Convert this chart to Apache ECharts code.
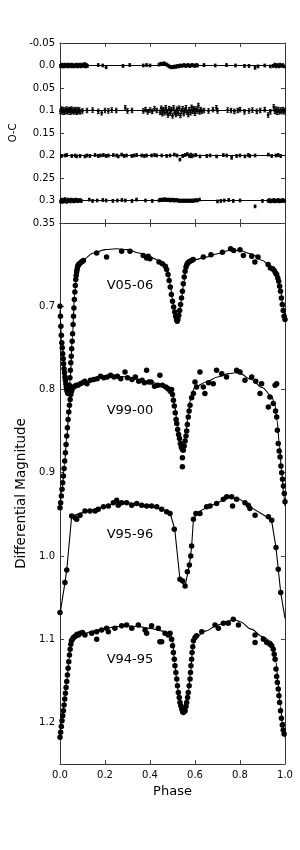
<!DOCTYPE html>
<html><head><meta charset="utf-8">
<script src="https://cdn.jsdelivr.net/npm/echarts@6/dist/echarts.min.js"></script>
<style>html,body{margin:0;padding:0;background:#fff}#c{width:300px;height:850px}</style>
</head><body><div id="c"></div>
<script>
// ---------- DATA ----------
const phaseTicks = ['0.0','0.2','0.4','0.6','0.8','1.0'];
const ocTickLabels = ['-0.05','0.0','0.05','0.1','0.15','0.2','0.25','0.3','0.35'];
const magTickLabels = ['0.7','0.8','0.9','1.0','1.1','1.2'];
const curveNames = ['V05-06','V99-00','V95-96','V94-95'];
const ocOffsets = [0.0, 0.1, 0.2, 0.3];
const ocErrors = [0.003, 0.005, 0.003, 0.003];

// Light curve observations [phase, differential magnitude]
const obsV0506 = [[0.000,0.700],[0.002,0.712],[0.004,0.724],[0.006,0.735],[0.008,0.744],[0.010,0.750],[0.012,0.757],[0.014,0.763],[0.016,0.769],[0.018,0.775],[0.020,0.780],[0.022,0.785],[0.024,0.789],[0.026,0.793],[0.028,0.797],[0.030,0.800],[0.032,0.802],[0.034,0.804],[0.036,0.805],[0.038,0.804],[0.040,0.801],[0.042,0.795],[0.044,0.786],[0.046,0.777],[0.048,0.768],[0.050,0.760],[0.052,0.751],[0.054,0.742],[0.056,0.733],[0.058,0.722],[0.060,0.712],[0.062,0.702],[0.064,0.692],[0.066,0.683],[0.068,0.675],[0.070,0.668],[0.072,0.663],[0.074,0.659],[0.076,0.656],[0.078,0.653],[0.080,0.651],[0.083,0.650],[0.086,0.649],[0.090,0.648],[0.095,0.647],[0.100,0.646],[0.104,0.645],
[0.163,0.636],[0.207,0.641],[0.274,0.634],[0.311,0.634],[0.370,0.639],[0.385,0.642],[0.392,0.640],[0.400,0.643],[0.440,0.647],[0.455,0.649],
[0.468,0.652],[0.474,0.656],[0.480,0.662],[0.485,0.669],[0.490,0.677],[0.495,0.686],[0.500,0.694],[0.505,0.701],[0.510,0.707],[0.514,0.712],[0.518,0.716],[0.521,0.718],[0.524,0.716],[0.528,0.711],[0.532,0.705],[0.536,0.698],[0.540,0.690],[0.544,0.682],[0.548,0.673],[0.552,0.665],[0.556,0.658],[0.560,0.653],[0.564,0.650],[0.568,0.648],[0.572,0.647],[0.578,0.646],[0.585,0.645],[0.592,0.644],
[0.637,0.641],[0.671,0.638],[0.722,0.635],[0.758,0.631],[0.772,0.633],[0.800,0.632],[0.815,0.639],[0.852,0.640],[0.866,0.647],[0.880,0.641],[0.925,0.650],[0.935,0.654],[0.945,0.655],[0.952,0.657],[0.958,0.660],[0.963,0.662],[0.968,0.666],[0.972,0.670],[0.976,0.676],[0.980,0.682],[0.984,0.690],[0.988,0.698],[0.992,0.705],[0.996,0.712],[1.000,0.716]];

const obsV9900 = [[0.000,0.942],[0.003,0.936],[0.006,0.928],[0.009,0.920],[0.012,0.912],[0.015,0.904],[0.018,0.895],[0.021,0.886],[0.024,0.876],[0.027,0.866],[0.030,0.856],[0.033,0.846],[0.036,0.836],[0.039,0.827],[0.042,0.819],[0.045,0.812],[0.048,0.806],[0.051,0.802],[0.055,0.799],[0.060,0.797],[0.066,0.796],[0.072,0.795],[0.080,0.795],[0.090,0.793],[0.100,0.792],[0.110,0.790],[0.120,0.793],[0.135,0.789],[0.150,0.788],[0.165,0.787],[0.180,0.784],[0.195,0.786],[0.210,0.785],[0.225,0.783],[0.240,0.785],[0.255,0.784],[0.270,0.787],[0.289,0.779],[0.300,0.786],[0.320,0.788],[0.335,0.785],[0.350,0.790],[0.365,0.789],[0.375,0.792],[0.385,0.777],[0.395,0.791],[0.405,0.791],[0.420,0.796],[0.435,0.795],[0.444,0.783],[0.455,0.795],[0.470,0.797],[0.480,0.799],[0.490,0.802],
[0.496,0.800],[0.500,0.806],[0.504,0.813],[0.508,0.820],[0.512,0.828],[0.516,0.836],[0.519,0.841],[0.523,0.848],[0.527,0.854],[0.531,0.859],[0.535,0.865],[0.539,0.869],[0.544,0.872],[0.544,0.882],[0.544,0.893],[0.548,0.873],[0.552,0.868],[0.556,0.862],[0.560,0.856],[0.563,0.850],[0.566,0.842],[0.570,0.833],[0.574,0.826],[0.578,0.819],[0.585,0.810],[0.593,0.805],[0.600,0.791],[0.607,0.797],[0.622,0.779],[0.637,0.797],[0.644,0.805],[0.660,0.792],[0.681,0.793],[0.696,0.777],[0.719,0.781],[0.740,0.785],[0.785,0.777],[0.800,0.779],[0.822,0.789],[0.852,0.785],[0.870,0.790],[0.889,0.805],[0.896,0.793],[0.926,0.821],[0.933,0.809],[0.956,0.795],[0.963,0.793],
[0.948,0.817],[0.958,0.826],[0.963,0.833],[0.966,0.849],[0.970,0.865],[0.974,0.874],[0.978,0.881],[0.982,0.892],[0.985,0.900],[0.989,0.908],[0.993,0.916],[0.997,0.925],[1.000,0.935]];

const obsV9596 = [[0.000,1.068],[0.022,1.032],[0.030,1.017],[0.052,0.952],[0.067,0.954],[0.074,0.956],[0.089,0.951],[0.111,0.946],[0.133,0.946],[0.156,0.946],[0.170,0.944],[0.193,0.941],[0.215,0.940],[0.237,0.936],[0.252,0.933],[0.259,0.939],[0.274,0.936],[0.296,0.936],[0.319,0.939],[0.341,0.937],[0.363,0.939],[0.385,0.940],[0.407,0.940],[0.430,0.941],[0.452,0.944],[0.474,0.947],[0.489,0.949],[0.508,0.968],[0.533,1.028],[0.545,1.030],[0.556,1.036],[0.566,1.019],[0.575,1.011],[0.581,1.000],[0.585,0.988],[0.593,0.956],[0.604,0.949],[0.622,0.949],[0.652,0.941],[0.667,0.940],[0.696,0.937],[0.726,0.932],[0.741,0.929],[0.763,0.929],[0.767,0.940],[0.785,0.932],[0.822,0.936],[0.837,0.939],[0.844,0.943],[0.867,0.951],[0.926,0.953],[0.941,0.957],[0.960,0.990],[0.970,1.016],[0.981,1.044]];

const obsV9495 = [[0.000,1.218],[0.003,1.212],[0.006,1.205],[0.009,1.198],[0.012,1.192],[0.015,1.186],[0.018,1.179],[0.021,1.172],[0.024,1.165],[0.027,1.158],[0.030,1.151],[0.033,1.143],[0.036,1.135],[0.039,1.127],[0.042,1.119],[0.045,1.112],[0.048,1.106],[0.051,1.102],[0.055,1.100],[0.060,1.098],[0.065,1.097],[0.070,1.096],[0.076,1.094],[0.082,1.095],[0.090,1.093],[0.100,1.092],[0.111,1.095],[0.141,1.093],[0.163,1.091],[0.163,1.100],[0.185,1.089],[0.207,1.087],[0.215,1.091],[0.244,1.087],[0.274,1.084],[0.296,1.083],[0.319,1.087],[0.348,1.083],[0.378,1.089],[0.385,1.093],[0.407,1.084],[0.437,1.087],[0.444,1.103],[0.452,1.103],[0.467,1.093],[0.481,1.095],[0.489,1.093],
[0.496,1.100],[0.500,1.108],[0.504,1.116],[0.508,1.124],[0.511,1.132],[0.515,1.140],[0.519,1.148],[0.522,1.156],[0.526,1.164],[0.530,1.170],[0.533,1.176],[0.537,1.180],[0.541,1.184],[0.545,1.187],[0.548,1.188],[0.552,1.187],[0.556,1.186],[0.560,1.181],[0.563,1.176],[0.567,1.170],[0.570,1.164],[0.574,1.156],[0.578,1.148],[0.580,1.140],[0.582,1.132],[0.585,1.124],[0.587,1.116],[0.590,1.109],[0.593,1.102],[0.600,1.098],[0.607,1.096],[0.630,1.091],[0.689,1.083],[0.704,1.087],[0.726,1.081],[0.748,1.081],[0.770,1.076],[0.793,1.083],[0.867,1.095],[0.867,1.104],[0.904,1.100],[0.919,1.104],[0.933,1.106],[0.941,1.108],[0.948,1.112],[0.952,1.118],[0.956,1.124],[0.960,1.136],[0.963,1.145],[0.966,1.152],[0.970,1.160],[0.973,1.168],[0.976,1.176],[0.980,1.186],[0.984,1.195],[0.988,1.203],[0.992,1.209],[0.996,1.214]];

// Model fits [phase, magnitude]
const fitV0506 = [[0,0.705],[0.01,0.745],[0.02,0.778],[0.03,0.798],[0.037,0.803],[0.045,0.790],[0.055,0.737],[0.065,0.685],[0.075,0.657],[0.085,0.648],[0.10,0.644],[0.15,0.636],[0.2,0.632],[0.25,0.631],[0.3,0.632],[0.35,0.636],[0.4,0.641],[0.45,0.646],[0.47,0.650],[0.48,0.658],[0.49,0.674],[0.50,0.692],[0.51,0.707],[0.52,0.717],[0.53,0.710],[0.54,0.692],[0.55,0.672],[0.56,0.655],[0.57,0.647],[0.6,0.644],[0.65,0.641],[0.7,0.637],[0.75,0.633],[0.8,0.633],[0.85,0.637],[0.9,0.645],[0.93,0.651],[0.96,0.659],[0.97,0.665],[0.98,0.679],[0.99,0.698],[1.0,0.714]];
const fitV9900 = [[0,0.94],[0.01,0.918],[0.02,0.89],[0.03,0.857],[0.04,0.826],[0.05,0.806],[0.06,0.798],[0.08,0.795],[0.1,0.792],[0.15,0.788],[0.2,0.785],[0.25,0.784],[0.3,0.785],[0.35,0.788],[0.4,0.791],[0.45,0.794],[0.48,0.796],[0.5,0.805],[0.51,0.82],[0.52,0.838],[0.53,0.856],[0.54,0.868],[0.55,0.866],[0.56,0.85],[0.57,0.83],[0.58,0.812],[0.59,0.802],[0.6,0.797],[0.65,0.791],[0.7,0.785],[0.75,0.781],[0.78,0.78],[0.8,0.781],[0.85,0.788],[0.9,0.798],[0.94,0.808],[0.955,0.818],[0.965,0.838],[0.975,0.866],[0.985,0.898],[0.995,0.928],[1.0,0.94]];
const fitV9596 = [[0,1.07],[0.022,1.032],[0.03,1.017],[0.052,0.952],[0.1,0.948],[0.15,0.944],[0.2,0.940],[0.25,0.936],[0.3,0.936],[0.35,0.938],[0.4,0.940],[0.45,0.944],[0.49,0.949],[0.51,0.968],[0.533,1.028],[0.556,1.036],[0.575,1.011],[0.585,0.989],[0.593,0.956],[0.61,0.948],[0.65,0.942],[0.7,0.936],[0.75,0.930],[0.8,0.932],[0.85,0.942],[0.9,0.950],[0.94,0.957],[0.96,0.99],[0.97,1.016],[0.981,1.044],[1.0,1.075]];
const fitV9495 = [[0,1.216],[0.01,1.196],[0.02,1.174],[0.03,1.150],[0.04,1.124],[0.05,1.104],[0.06,1.099],[0.1,1.094],[0.15,1.090],[0.2,1.087],[0.25,1.085],[0.3,1.084],[0.35,1.085],[0.4,1.087],[0.45,1.090],[0.49,1.093],[0.5,1.1],[0.51,1.128],[0.52,1.152],[0.53,1.172],[0.54,1.184],[0.55,1.188],[0.56,1.181],[0.57,1.164],[0.58,1.14],[0.59,1.112],[0.6,1.098],[0.65,1.09],[0.7,1.083],[0.75,1.078],[0.78,1.077],[0.8,1.079],[0.85,1.088],[0.9,1.097],[0.94,1.103],[0.95,1.11],[0.96,1.128],[0.97,1.155],[0.98,1.18],[0.99,1.205],[1.0,1.218]];

// O-C residuals [phase, residual] (offset added per row)
const ocV0506 = [[0.002,0.001],[0.006,-0.002],[0.010,0.002],[0.014,-0.001],[0.018,0.002],[0.022,-0.002],[0.026,0.001],[0.030,-0.001],[0.034,0.002],[0.038,-0.002],[0.042,0.001],[0.046,-0.001],[0.050,0.002],[0.054,-0.002],[0.058,0.001],[0.062,0.002],[0.066,-0.001],[0.070,0.001],[0.074,-0.002],[0.078,0.002],[0.082,-0.001],[0.086,0.001],[0.090,-0.002],[0.094,0.002],[0.098,0.000],[0.102,-0.002],[0.106,0.001],[0.110,-0.003],[0.114,0.002],[0.118,-0.001],[0.122,0.001],
[0.17,-0.001],[0.19,0.000],[0.205,0.004],[0.28,0.001],[0.31,-0.001],[0.37,0.000],[0.385,-0.001],[0.40,0.000],
[0.44,-0.002],[0.448,-0.004],[0.456,-0.003],[0.462,-0.005],[0.468,-0.003],[0.474,-0.002],[0.48,0.000],[0.486,0.002],[0.492,0.004],[0.498,0.003],[0.504,0.004],[0.51,0.002],[0.516,0.003],[0.522,0.001],[0.528,0.002],[0.534,0.000],[0.54,0.001],[0.546,0.000],[0.552,-0.001],[0.558,0.001],[0.564,0.000],[0.57,-0.001],[0.576,0.001],[0.582,0.000],[0.588,-0.001],[0.594,0.000],[0.60,0.001],[0.606,-0.001],[0.612,0.000],
[0.64,-0.001],[0.69,0.000],[0.74,-0.001],[0.78,0.000],[0.82,0.001],[0.84,0.001],[0.867,0.005],[0.88,0.002],[0.91,0.000],[0.935,0.002],
[0.948,0.001],[0.954,-0.002],[0.96,0.002],[0.966,-0.001],[0.972,0.002],[0.978,-0.002],[0.984,0.001],[0.99,-0.001],[0.996,0.002]];
const ocV9900 = [[0.002,0.002],[0.006,-0.003],[0.010,0.003],[0.014,-0.002],[0.018,0.004],[0.022,-0.001],[0.026,0.002],[0.030,-0.003],[0.034,0.003],[0.038,0.000],[0.042,-0.002],[0.046,0.004],[0.050,-0.003],[0.054,0.002],[0.058,-0.001],[0.062,0.003],[0.066,-0.002],[0.070,0.001],[0.074,0.004],[0.078,-0.002],[0.082,0.002],[0.086,-0.001],[0.090,0.003],
[0.10,0.001],[0.12,0.000],[0.145,-0.001],[0.17,0.002],[0.185,0.005],[0.20,0.000],[0.215,0.001],[0.23,-0.001],[0.25,0.000],[0.29,-0.006],[0.30,0.001],[0.32,0.000],
[0.37,0.001],[0.38,-0.002],[0.39,0.003],[0.40,-0.001],[0.41,0.002],[0.42,-0.004],[0.43,0.000],
[0.445,0.004],[0.45,-0.005],[0.455,0.007],[0.46,-0.002],[0.465,0.005],[0.47,-0.006],[0.475,0.003],[0.48,0.010],[0.485,-0.004],[0.49,0.006],[0.495,-0.002],[0.50,0.012],[0.505,-0.006],[0.51,0.004],[0.515,0.009],[0.52,-0.003],[0.525,0.006],[0.53,-0.005],[0.535,0.011],[0.54,0.002],[0.545,-0.004],[0.55,0.007],[0.555,0.000],[0.56,-0.006],[0.565,0.004],[0.57,0.009],[0.575,-0.002],[0.58,0.005],[0.585,-0.007],[0.59,0.002],[0.595,-0.004],[0.60,0.006],[0.605,-0.003],[0.61,0.001],[0.615,-0.011],[0.62,0.003],[0.625,-0.002],[0.63,0.002],[0.64,0.000],
[0.66,0.001],[0.68,-0.002],[0.695,-0.006],[0.70,0.001],[0.745,-0.001],[0.76,0.000],[0.775,0.002],[0.79,0.000],[0.80,-0.002],[0.82,0.003],[0.84,0.001],[0.855,-0.001],[0.875,0.002],[0.89,0.000],[0.91,-0.002],[0.925,0.010],[0.935,0.003],[0.95,-0.008],[0.955,0.002],
[0.96,-0.003],[0.965,0.004],[0.97,-0.002],[0.975,0.003],[0.98,-0.001],[0.985,0.002],[0.99,-0.002],[0.995,0.003],[0.999,0.000]];
const ocV9596 = [[0.007,0.001],[0.022,0.000],[0.03,-0.001],[0.052,0.001],[0.067,0.000],[0.074,0.002],[0.089,0.001],[0.111,0.002],[0.12,0.000],[0.133,0.001],[0.156,-0.001],[0.17,0.001],[0.18,0.000],[0.193,-0.001],[0.205,0.001],[0.215,0.000],[0.237,-0.001],[0.252,0.000],[0.259,0.002],[0.274,-0.002],[0.285,0.001],[0.296,0.000],[0.319,0.001],[0.33,0.000],[0.341,-0.001],[0.363,0.000],[0.375,0.001],[0.385,0.000],[0.407,0.000],[0.42,-0.001],[0.43,0.000],[0.452,0.000],[0.474,0.001],[0.489,0.000],[0.508,-0.002],[0.52,0.000],[0.533,0.009],[0.545,0.001],[0.556,-0.001],[0.566,-0.003],[0.575,0.001],[0.581,-0.002],[0.585,0.002],[0.593,0.000],[0.604,-0.001],[0.622,0.002],[0.652,0.001],[0.667,0.000],[0.696,0.002],[0.726,-0.001],[0.741,0.000],[0.763,0.005],[0.785,0.001],[0.8,0.000],[0.822,0.002],[0.837,-0.001],[0.844,0.001],[0.867,0.000],[0.926,-0.002],[0.941,0.001],[0.96,0.000],[0.97,-0.001],[0.981,0.001]];
const ocV9495 = [[0.002,0.002],[0.006,-0.002],[0.010,0.003],[0.014,-0.001],[0.018,0.002],[0.022,-0.003],[0.026,0.001],[0.030,0.003],[0.034,-0.002],[0.038,0.001],[0.042,-0.001],[0.046,0.002],[0.050,-0.002],[0.054,0.001],[0.058,-0.001],[0.062,0.002],[0.066,0.000],[0.070,-0.002],[0.074,0.001],[0.078,-0.001],[0.082,0.001],[0.086,0.000],[0.090,-0.001],[0.095,0.001],
[0.13,-0.002],[0.145,0.001],[0.165,0.000],[0.19,-0.001],[0.205,0.000],[0.235,0.001],[0.255,0.000],[0.275,-0.001],[0.29,0.000],[0.32,0.001],[0.34,-0.002],[0.38,0.000],[0.41,0.001],
[0.44,0.000],[0.445,-0.002],[0.45,-0.001],[0.455,-0.002],[0.46,-0.001],[0.465,-0.003],[0.47,-0.001],[0.475,-0.002],[0.48,-0.001],[0.485,-0.002],[0.49,0.000],[0.495,-0.001],[0.50,-0.002],[0.505,0.000],[0.51,-0.001],[0.515,0.000],[0.52,-0.001],[0.525,0.000],[0.53,0.001],[0.535,0.000],[0.54,0.001],[0.545,0.000],[0.55,0.001],[0.555,0.000],[0.56,0.001],[0.565,0.000],[0.57,0.001],[0.575,0.000],[0.58,0.001],[0.585,0.000],[0.59,0.001],[0.595,0.000],[0.60,0.000],[0.605,-0.001],[0.61,0.000],[0.62,-0.002],
[0.70,0.002],[0.715,0.001],[0.73,0.000],[0.75,-0.001],[0.77,0.001],[0.80,0.000],[0.867,0.013],[0.90,0.001],
[0.925,0.001],[0.93,-0.001],[0.935,0.002],[0.94,0.000],[0.945,0.001],[0.95,-0.001],[0.955,0.002],[0.96,0.000],[0.965,0.001],[0.97,-0.001],[0.975,0.002],[0.98,0.000],[0.985,0.001],[0.99,-0.001],[0.995,0.001],[0.999,0.000]];

const observations = [obsV0506, obsV9900, obsV9596, obsV9495];
const fits = [fitV0506, fitV9900, fitV9596, fitV9495];
const residuals = [ocV0506, ocV9900, ocV9596, ocV9495];

// ---------- CHART ----------
const FONT = 'DejaVu Sans';
const chart = echarts.init(document.getElementById('c'), null, {renderer: 'canvas'});
const frameColor = '#333';
const tickColor = '#444';

function labelMap(labels) {
  const m = {};
  labels.forEach(l => { m[Math.round(parseFloat(l) * 100)] = l; });
  return v => { const k = Math.round(v * 100); return m[k] !== undefined ? m[k] : ''; };
}
const phaseFmt = labelMap(phaseTicks);
const ocFmt = labelMap(ocTickLabels);
const magFmt = labelMap(magTickLabels);

function xAx(grid, pos, showLabels, extra) {
  return Object.assign({
    type: 'value', gridIndex: grid, position: pos, min: 0, max: 1, interval: 0.2,
    axisLine: {show: true, onZero: false, lineStyle: {color: frameColor, width: 1}},
    axisTick: {show: true, inside: true, length: 4, lineStyle: {color: tickColor}},
    axisLabel: {show: showLabels, formatter: phaseFmt, fontFamily: FONT, fontSize: 10, color: '#000', margin: 6},
    splitLine: {show: false}
  }, extra || {});
}
function yAx(grid, pos, showLabels, min, max, interval, fmt, extra) {
  return Object.assign({
    type: 'value', gridIndex: grid, position: pos, inverse: true, min: min, max: max, interval: interval,
    axisLine: {show: true, onZero: false, lineStyle: {color: frameColor, width: 1}},
    axisTick: {show: true, inside: true, length: 4, lineStyle: {color: tickColor}},
    axisLabel: {show: showLabels, formatter: fmt, fontFamily: FONT, fontSize: 10, color: '#000', margin: 5},
    splitLine: {show: false}
  }, extra || {});
}

const series = [];
// O-C panel: reference lines + error bars
residuals.forEach((rows, i) => {
  const off = ocOffsets[i];
  series.push({
    type: 'line', xAxisIndex: 0, yAxisIndex: 0, data: [[0, off], [1, off]],
    symbol: 'none', lineStyle: {color: '#000', width: 1}, silent: true, z: 2
  });
  series.push({
    type: 'custom', xAxisIndex: 0, yAxisIndex: 0, z: 3,
    data: rows.map(r => [r[0], r[1] + off, ocErrors[i]]),
    renderItem: function (params, api) {
      const x = api.value(0), y = api.value(1), e = api.value(2);
      const t = api.coord([x, y - e]), b = api.coord([x, y + e]), c = api.coord([x, y]);
      const cap = 1.3;
      return {type: 'group', children: [
        {type: 'line', shape: {x1: t[0], y1: t[1], x2: b[0], y2: b[1]}, style: {stroke: '#000', lineWidth: 1}},
        {type: 'line', shape: {x1: t[0] - cap, y1: t[1], x2: t[0] + cap, y2: t[1]}, style: {stroke: '#000', lineWidth: 1}},
        {type: 'line', shape: {x1: b[0] - cap, y1: b[1], x2: b[0] + cap, y2: b[1]}, style: {stroke: '#000', lineWidth: 1}},
        {type: 'circle', shape: {cx: c[0], cy: c[1], r: 1.4}, style: {fill: '#000'}}
      ]};
    }
  });
});
// Light curves
observations.forEach((obs, i) => {
  series.push({
    type: 'scatter', name: curveNames[i], xAxisIndex: 2, yAxisIndex: 2, data: obs,
    symbol: 'circle', symbolSize: 5.5, itemStyle: {color: '#000', opacity: 1}, z: 3
  });
  series.push({
    type: 'line', xAxisIndex: 2, yAxisIndex: 2, data: fits[i],
    symbol: 'none', smooth: i === 2 ? false : 0.35, smoothMonotone: 'x',
    lineStyle: {color: '#000', width: 1.1}, z: 4, silent: true
  });
});
// Curve labels
const labelPos = [[0.311, 0.675], [0.311, 0.825], [0.311, 0.975], [0.311, 1.124]];
series.push({
  type: 'scatter', xAxisIndex: 2, yAxisIndex: 2, symbolSize: 0, silent: true, z: 5,
  itemStyle: {opacity: 1},
  data: labelPos.map((p, i) => ({value: p, name: curveNames[i]})),
  label: {show: true, position: 'inside', formatter: '{b}', fontFamily: FONT, fontSize: 13, color: '#000'}
});

chart.setOption({
  animation: false,
  backgroundColor: '#fff',
  grid: [
    {left: 60, right: 15, top: 43, height: 180},
    {left: 60, right: 15, top: 223, height: 541}
  ],
  xAxis: [
    xAx(0, 'bottom', false),
    xAx(0, 'top', false),
    xAx(1, 'bottom', true, {name: 'Phase', nameLocation: 'middle', nameGap: 21,
      nameTextStyle: {fontFamily: FONT, fontSize: 13, color: '#000'}}),
    xAx(1, 'top', false)
  ],
  yAxis: [
    yAx(0, 'left', true, -0.05, 0.35, 0.05, ocFmt, {name: 'O-C', nameLocation: 'middle', nameGap: 38,
      nameTextStyle: {fontFamily: FONT, fontSize: 10, color: '#000'}}),
    yAx(0, 'right', false, -0.05, 0.35, 0.05, ocFmt),
    yAx(1, 'left', true, 0.6, 1.25, 0.1, magFmt, {name: 'Differential Magnitude', nameLocation: 'middle', nameGap: 29,
      nameTextStyle: {fontFamily: FONT, fontSize: 13.5, color: '#000'}}),
    yAx(1, 'right', false, 0.6, 1.25, 0.1, magFmt)
  ],
  series: series
});
</script>
</body></html>
